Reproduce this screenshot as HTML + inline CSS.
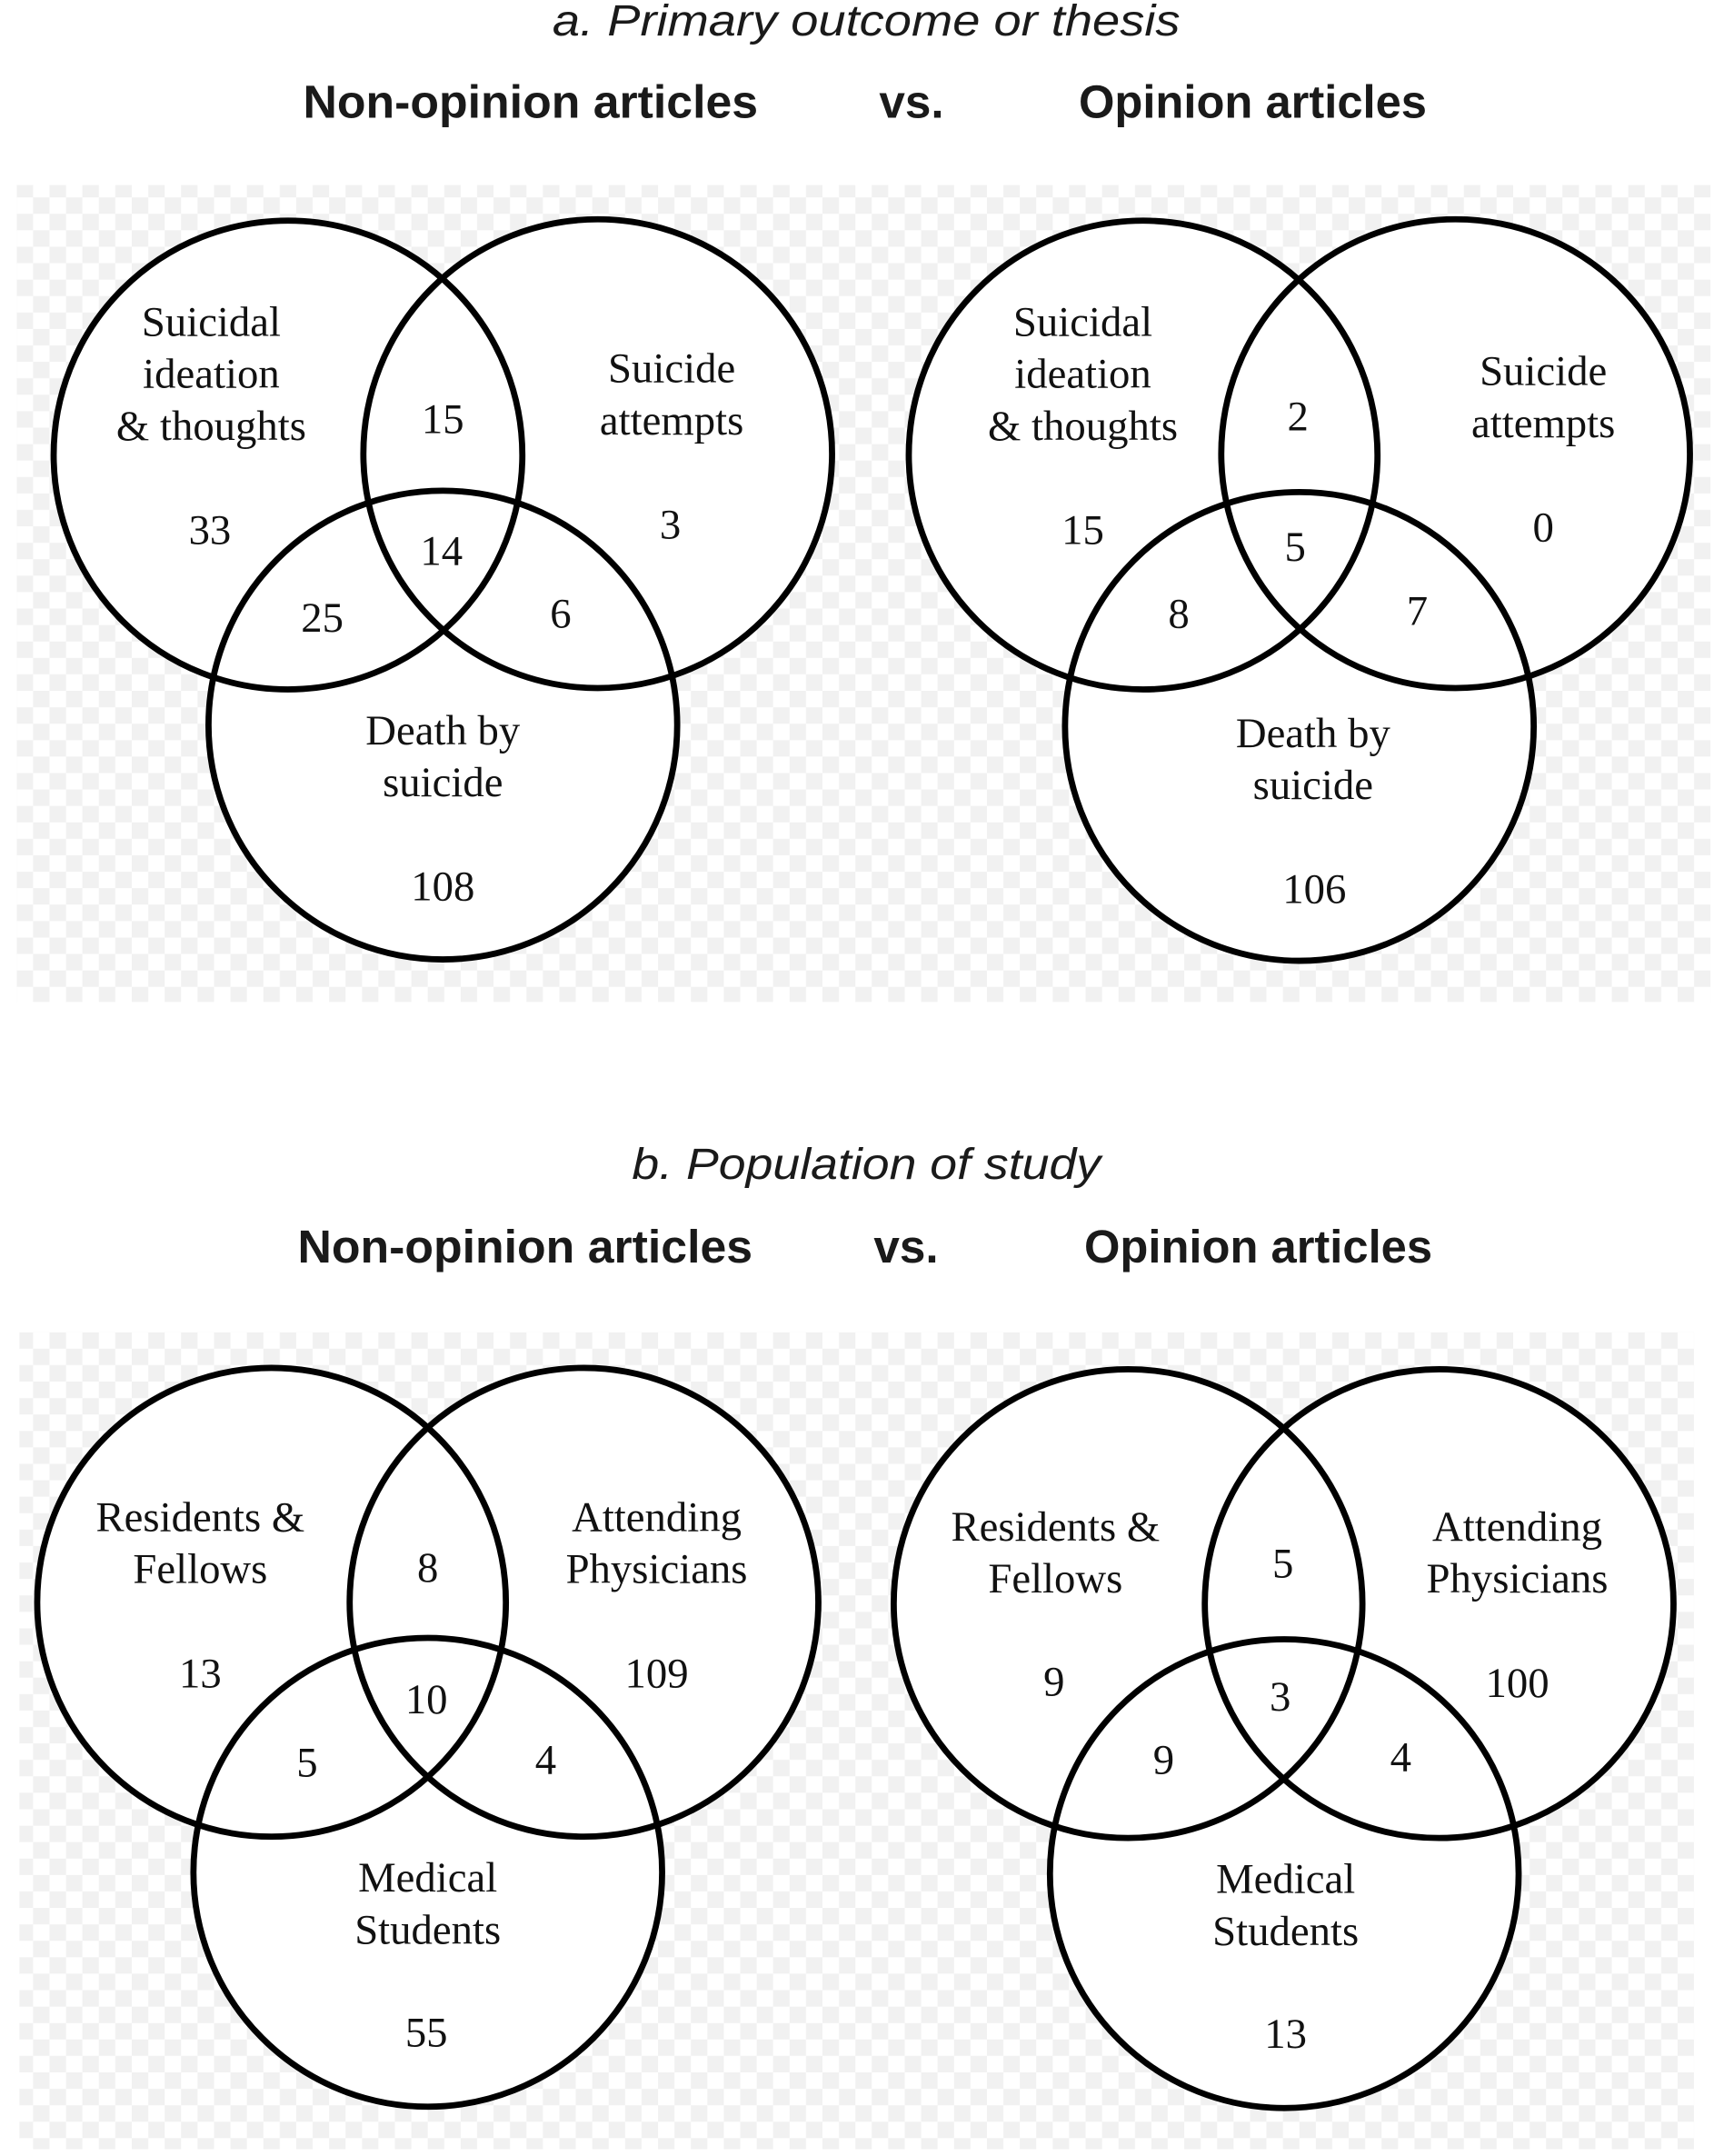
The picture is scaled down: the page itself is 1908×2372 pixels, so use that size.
<!DOCTYPE html>
<html><head><meta charset="utf-8"><style>html,body{margin:0;padding:0;background:#fff}svg{display:block}</style></head>
<body>
<svg width="1908" height="2372" viewBox="0 0 1265 1573" xmlns="http://www.w3.org/2000/svg">
<defs>
<pattern id="ck" width="24" height="24" patternUnits="userSpaceOnUse">
<rect width="24" height="24" fill="#fff"/>
<rect width="12" height="12" fill="#f1f1f1"/>
<rect x="12" y="12" width="12" height="12" fill="#f1f1f1"/>
</pattern>
</defs>
<rect width="1265" height="1573" fill="#fff"/>
<rect x="12" y="135" width="1236" height="596" fill="url(#ck)"/>
<rect x="14" y="972" width="1222" height="596" fill="url(#ck)"/>

<g font-family="'Liberation Sans', sans-serif" fill="#1a1a1a" text-anchor="middle">
<text x="632" y="26" font-size="32" font-style="italic" textLength="458" lengthAdjust="spacingAndGlyphs">a. Primary outcome or thesis</text>
<text x="387" y="86" font-size="34" font-weight="bold" textLength="332" lengthAdjust="spacingAndGlyphs">Non-opinion articles</text>
<text x="665" y="86" font-size="34" font-weight="bold">vs.</text>
<text x="914" y="86" font-size="34" font-weight="bold" textLength="254" lengthAdjust="spacingAndGlyphs">Opinion articles</text>
<text x="632" y="860" font-size="32" font-style="italic" textLength="342" lengthAdjust="spacingAndGlyphs">b. Population of study</text>
<text x="383" y="921" font-size="34" font-weight="bold" textLength="332" lengthAdjust="spacingAndGlyphs">Non-opinion articles</text>
<text x="661" y="921" font-size="34" font-weight="bold">vs.</text>
<text x="918" y="921" font-size="34" font-weight="bold" textLength="254" lengthAdjust="spacingAndGlyphs">Opinion articles</text>
</g>

<g fill="#fff" stroke="none">
<circle cx="210" cy="332" r="171"/><circle cx="436" cy="331" r="171"/><circle cx="323" cy="529" r="171"/>
<circle cx="834" cy="332" r="171"/><circle cx="1062" cy="331" r="171"/><circle cx="948" cy="530" r="171"/>
<circle cx="198" cy="1169" r="171"/><circle cx="426" cy="1169" r="171"/><circle cx="312" cy="1366" r="171"/>
<circle cx="823" cy="1170" r="171"/><circle cx="1050" cy="1170" r="171"/><circle cx="937" cy="1367" r="171"/>
</g>
<g fill="none" stroke="#000" stroke-width="4.5">
<circle cx="210" cy="332" r="171"/><circle cx="436" cy="331" r="171"/><circle cx="323" cy="529" r="171"/>
<circle cx="834" cy="332" r="171"/><circle cx="1062" cy="331" r="171"/><circle cx="948" cy="530" r="171"/>
<circle cx="198" cy="1169" r="171"/><circle cx="426" cy="1169" r="171"/><circle cx="312" cy="1366" r="171"/>
<circle cx="823" cy="1170" r="171"/><circle cx="1050" cy="1170" r="171"/><circle cx="937" cy="1367" r="171"/>
</g>

<g font-family="'Liberation Serif', serif" font-size="31" fill="#111" text-anchor="middle">
<text x="154" y="245">Suicidal</text><text x="154" y="283">ideation</text><text x="154" y="321">&amp; thoughts</text>
<text x="323" y="316">15</text><text x="490" y="279">Suicide</text><text x="490" y="317">attempts</text>
<text x="153" y="397">33</text><text x="322" y="412">14</text><text x="489" y="393">3</text>
<text x="235" y="461">25</text><text x="409" y="458">6</text>
<text x="323" y="543">Death by</text><text x="323" y="581">suicide</text><text x="323" y="657">108</text>

<text x="790" y="245">Suicidal</text><text x="790" y="283">ideation</text><text x="790" y="321">&amp; thoughts</text>
<text x="947" y="314">2</text><text x="1126" y="281">Suicide</text><text x="1126" y="319">attempts</text>
<text x="790" y="397">15</text><text x="945" y="409">5</text><text x="1126" y="395">0</text>
<text x="860" y="458">8</text><text x="1034" y="456">7</text>
<text x="958" y="545">Death by</text><text x="958" y="583">suicide</text><text x="959" y="659">106</text>

<text x="146" y="1117">Residents &amp;</text><text x="146" y="1155">Fellows</text>
<text x="312" y="1154">8</text><text x="479" y="1117">Attending</text><text x="479" y="1155">Physicians</text>
<text x="146" y="1231">13</text><text x="311" y="1250">10</text><text x="479" y="1231">109</text>
<text x="224" y="1296">5</text><text x="398" y="1294">4</text>
<text x="312" y="1380">Medical</text><text x="312" y="1418">Students</text><text x="311" y="1493">55</text>

<text x="770" y="1124">Residents &amp;</text><text x="770" y="1162">Fellows</text>
<text x="936" y="1151">5</text><text x="1107" y="1124">Attending</text><text x="1107" y="1162">Physicians</text>
<text x="769" y="1237">9</text><text x="934" y="1248">3</text><text x="1107" y="1238">100</text>
<text x="849" y="1294">9</text><text x="1022" y="1292">4</text>
<text x="938" y="1381">Medical</text><text x="938" y="1419">Students</text><text x="938" y="1494">13</text>
</g>
</svg>
</body></html>
